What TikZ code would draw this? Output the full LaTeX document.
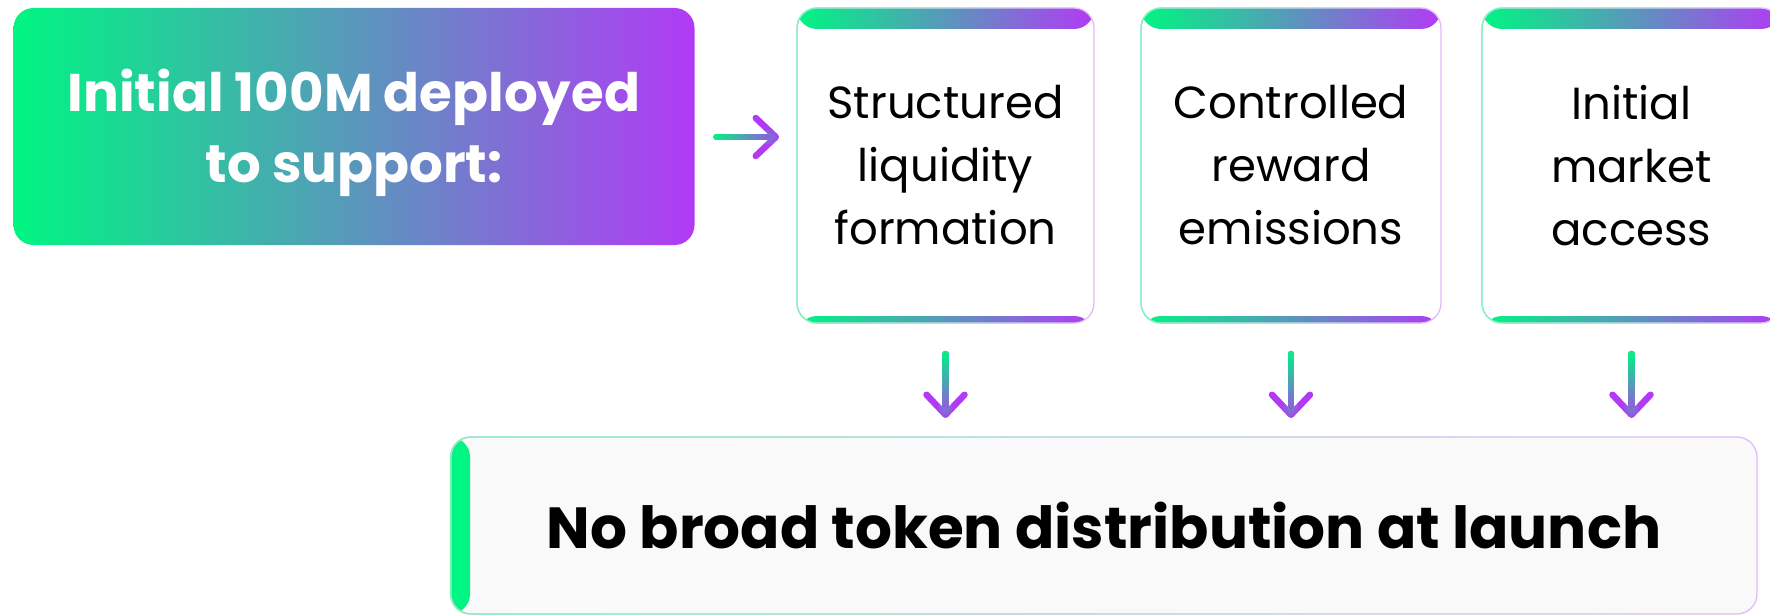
\documentclass[tikz,border=0pt]{standalone}
\usepackage{fontspec}
\setmainfont{Poppins}
\usetikzlibrary{arrows.meta,fadings,calc}
\definecolor{gradA}{HTML}{00F582}
\definecolor{gradB}{HTML}{B23AF5}
\definecolor{cardbg}{HTML}{F9F9F9}

\begin{document}
\begin{tikzpicture}[x=1pt,y=-1pt]
	\tikzset{
		card/.style={anchor=north west, inner sep=0pt, outer sep=0pt, rounded corners=20pt,
			minimum height=315pt, fill=white, draw=gradB!35, line width=1.3pt,
			align=center, font=\fontsize{45}{63}\selectfont,
			path picture={
				\shade[left color=gradA, right color=gradB] (path picture bounding box.north west) rectangle ([yshift=-21pt]path picture bounding box.north east);
				\shade[left color=gradA, right color=gradB] ([yshift=7pt]path picture bounding box.south west) rectangle (path picture bounding box.south east);
			}},
		edgefade/.style={draw=gradA!55, line width=1.3pt, rounded corners=20pt, path fading=east},
		flow/.style={line width=6.5pt, line cap=round, -{Straight Barb[length=20pt, width=38pt, round]}},
	}
	\useasboundingbox (0,0) rectangle (1770,615);
	% starting block
	\node[anchor=north west, inner sep=0pt, outer sep=0pt, rounded corners=20pt,
		minimum width=681pt, minimum height=237pt, left color=gradA, right color=gradB]
		(init) at (13.5,8) {};
	\node[text=white, align=center, font=\fontsize{53}{71}\selectfont\bfseries]
		(initText) at ($(init.center)+(0,6)$) {Initial 100M deployed\\to support:};
	% the three uses
	\node[card, minimum width=297pt] (card1) at (797,8) {Structured\\liquidity\\formation};
	\node[card, minimum width=300pt] (card2) at (1141,8) {Controlled\\reward\\emissions};
	\node[card, minimum width=299pt] (card3) at (1482,8) {Initial\\market\\access};
	% outcome
	\node[anchor=north west, inner sep=0pt, outer sep=0pt, rounded corners=20pt,
		minimum width=1306pt, minimum height=177pt, fill=cardbg, draw=gradB!35, line width=1.3pt,
		font=\fontsize{58}{62}\selectfont\bfseries,
		path picture={\fill[gradA] (path picture bounding box.north west) rectangle ([xshift=19pt]path picture bounding box.south west);}]
		(result) at (451,437) {No broad token distribution at launch};
	\foreach \c in {card1,card2,card3,result}
		\path[edgefade] (\c.north west) rectangle (\c.south east);
	% arrows
	\draw[flow, gradB] ($(init.east |- 0,137)+(22,0)$) -- ($(card1.west |- 0,137)+(-18,0)$);
	\draw[flow, gradA, path fading=east] ($(init.east |- 0,137)+(22,0)$) -- ($(card1.west |- 0,137)+(-18,0)$);
	\foreach \c in {card1,card2,card3}{
		\draw[flow, gradB] ($(\c.south)+(0,31)$) -- ($(\c.south |- result.north)+(0,-19)$);
		\draw[flow, gradA, path fading=south] ($(\c.south)+(0,31)$) -- ($(\c.south |- result.north)+(0,-19)$);
	}
\end{tikzpicture}
\end{document}
